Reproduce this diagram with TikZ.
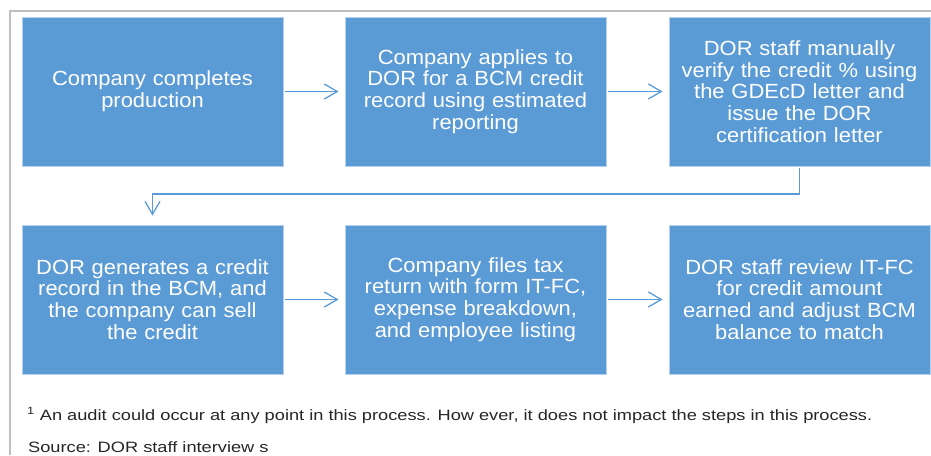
\documentclass[tikz,border=0pt]{standalone}
\usepackage{fontspec}
\setmainfont{Liberation Sans}
\newfontfamily\boxfont[FakeStretch=1.07]{Liberation Sans}
\newfontfamily\notefont[FakeStretch=1.215]{Liberation Sans}
\usepackage{tikz}
\usetikzlibrary{positioning}
\usetikzlibrary{arrows.meta}
\definecolor{stepblue}{HTML}{5B9BD5}
\definecolor{framegray}{HTML}{BFBFBF}

\begin{document}
\begin{tikzpicture}[x=1pt,y=-1pt,
	stepbox/.style={rectangle,fill=stepblue,draw=white!55!stepblue,line width=0.8pt,
		minimum width=261pt,minimum height=149pt,inner sep=0pt,text width=250pt,
		align=center,text=white,font=\boxfont\fontsize{20.5}{21.7}\selectfont},
	flow/.style={draw=stepblue,line width=1.3pt,shorten <=2pt,shorten >=6pt,
		-{Straight Barb[length=13pt,width=15pt]}},
	note/.style={anchor=base west,inner sep=0pt,text=black!85,
		font=\notefont\fontsize{15}{18}\selectfont}]
	
	\useasboundingbox (0,0) rectangle (931,455);
	\draw[framegray,line width=1.7pt] (10,455) -- (10,11) -- (931,11);
	
	\node[stepbox] (B1) at (152.5,91.5) {Company completes\\production};
	\node[stepbox] (B2) at (475.5,91.5) {Company applies to\\DOR for a BCM credit\\record using estimated\\reporting};
	\node[stepbox] (B3) at (799.5,91.5) {DOR staff manually\\verify the credit \% using\\the GDEcD letter and\\issue the DOR\\certification letter};
	
	\node[stepbox] (B4) at (152.5,299.5) {DOR generates a credit\\record in the BCM, and\\the company can sell\\the credit};
	\node[stepbox] (B5) at (475.5,299.5) {Company files tax\\return with form IT-FC,\\expense breakdown,\\and employee listing};
	\node[stepbox] (B6) at (799.5,299.5) {DOR staff review IT-FC\\for credit amount\\earned and adjust BCM\\balance to match};
	
	\draw[flow] (B1) -- (B2);
	\draw[flow] (B2) -- (B3);
	\coordinate (T1) at (799.5,194);
	\draw[flow,shorten >=9pt] (B3.south) -- (T1) -| (B4.north);
	\draw[flow] (B4) -- (B5);
	\draw[flow] (B5) -- (B6);
	
	\node[note] (N1) at (27,420) {\textsuperscript{1} An audit could occur at any point in this process. How ever, it does not impact the steps in this process.};
	\node[note] (S1) at (28,452) {Source: DOR staff interview s};
	
\end{tikzpicture}
\end{document}
